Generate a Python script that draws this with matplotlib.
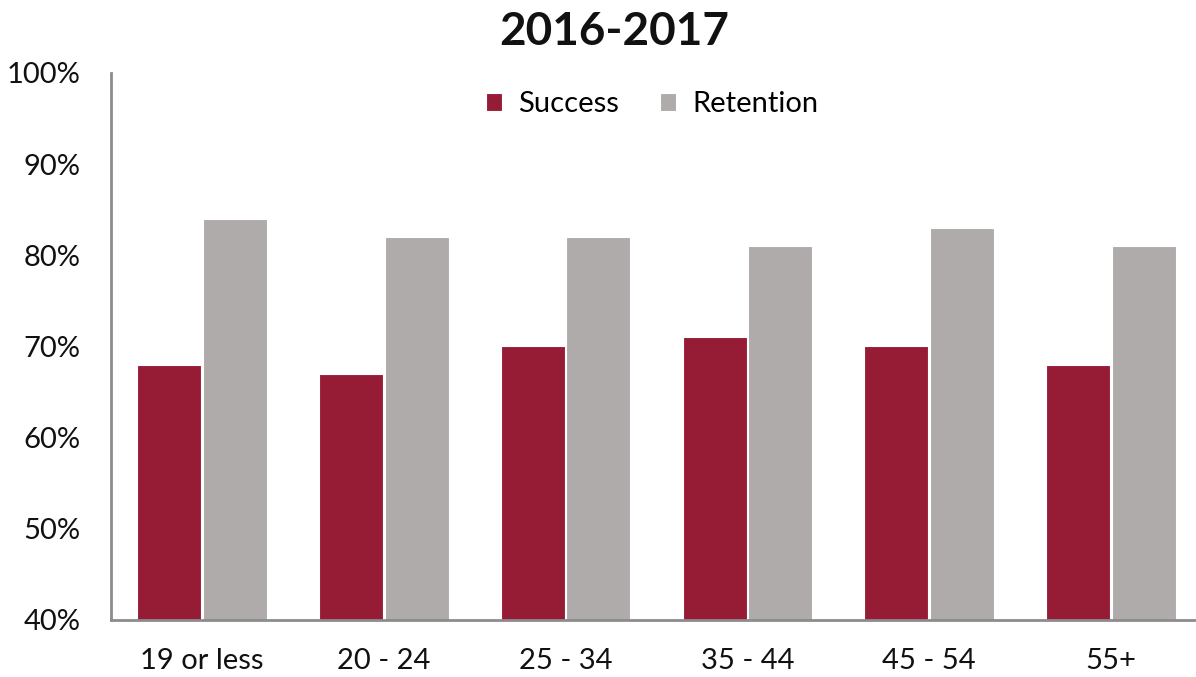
import matplotlib.pyplot as plt
import numpy as np

plt.rcParams['font.family'] = ['Lato', 'DejaVu Sans']

categories = ["19 or less", "20 - 24", "25 - 34", "35 - 44", "45 - 54", "55+"]
success = [68, 67, 70, 71, 70, 68]
retention = [84, 82, 82, 81, 83, 81]

fig = plt.figure(figsize=(11.96, 6.77), dpi=100)
ax = fig.add_axes([111 / 1196, 57 / 677, 1091 / 1196, 547 / 677])

x = np.arange(len(categories))
w = 0.352
ax.bar(x - w / 2 - 0.005, success, w, color="#961B35", edgecolor="white",
       linewidth=0.8, label="Success")
ax.bar(x + w / 2 + 0.005, retention, w, color="#AFABAB", edgecolor="white",
       linewidth=0.8, label="Retention")

ax.set_xlim(-0.5, len(categories) - 0.5)
ax.set_ylim(40, 100)
ax.set_yticks(range(40, 101, 10))
ax.set_yticklabels([f"{v}%" for v in range(40, 101, 10)])
ax.set_xticks(x)
ax.set_xticklabels(categories)
ax.tick_params(length=0, labelsize=21, colors="#111111")
ax.tick_params(axis="x", pad=20)
ax.tick_params(axis="y", pad=22)

for s in ["top", "right"]:
    ax.spines[s].set_visible(False)
for s in ["left", "bottom"]:
    ax.spines[s].set_color("#8c8c8c")
    ax.spines[s].set_linewidth(2)

fig.text(614 / 1196, 1 - 32 / 677, "2016-2017", ha="center", va="center",
         fontsize=33, fontweight="bold", color="#111111")

ax.legend(loc="upper center", bbox_to_anchor=(0.496, 1.015), ncol=2, frameon=False,
          fontsize=21, handlelength=0.55, handleheight=0.55, columnspacing=1.4,
          handletextpad=0.55)

fig.savefig("out.png", dpi=100)
